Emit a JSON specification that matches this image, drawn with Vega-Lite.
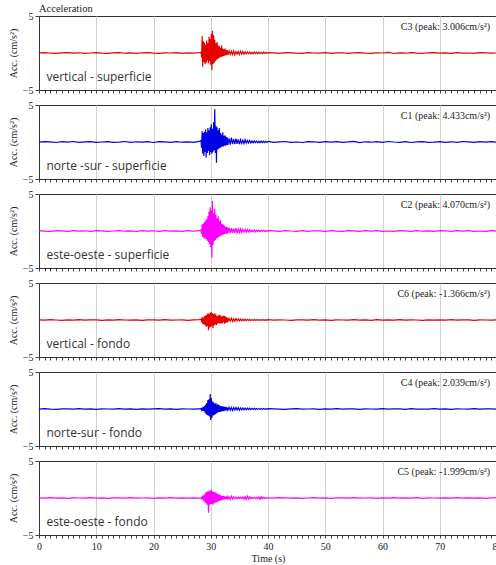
{
"$schema":"https://vega.github.io/schema/vega-lite/v6.json",
"background":"white",
"padding":{"left":7,"top":3,"right":0,"bottom":0},
"spacing":15,
"bounds":"flush",
"config":{
 "view":{"stroke":"#333","strokeWidth":1},
 "axis":{"labelFont":"Liberation Serif","labelFontSize":10,"labelColor":"#222","titleFont":"Liberation Serif","titleFontSize":10,"titleFontWeight":"normal","titleColor":"#222","domainColor":"#333","tickColor":"#444"},
 "title":{"font":"Liberation Serif","fontSize":10.5,"fontWeight":"normal","color":"#222"}
},
"datasets":{
"C3":[{"t":0,"a":0.02},{"t":1,"a":0.05},{"t":2,"a":-0.03},{"t":3,"a":-0.06},{"t":4,"a":0.01},{"t":5,"a":0.04},{"t":6,"a":-0.02},{"t":7,"a":0.03},{"t":8,"a":-0.05},{"t":9,"a":0.0},{"t":10,"a":0.06},{"t":11,"a":-0.01},{"t":12,"a":-0.04},{"t":13,"a":0.02},{"t":14,"a":0.05},{"t":15,"a":-0.03},{"t":16,"a":0.01},{"t":17,"a":-0.06},{"t":18,"a":0.03},{"t":19,"a":0.04},{"t":20,"a":-0.02},{"t":21,"a":-0.05},{"t":22,"a":0.02},{"t":23,"a":0.0},{"t":24,"a":0.05},{"t":25,"a":-0.04},{"t":26,"a":0.03},{"t":27,"a":-0.02},{"t":28,"a":0.06},
{"t":28.3,"a":0.1},{"t":28.4,"a":-0.6},{"t":28.5,"a":2.3},{"t":28.6,"a":-1.85},{"t":28.7,"a":1.6},{"t":28.8,"a":-1.2},{"t":28.9,"a":1.4},{"t":29.0,"a":-1.5},{"t":29.1,"a":1.1},{"t":29.2,"a":-1.3},{"t":29.3,"a":1.7},{"t":29.4,"a":-1.0},{"t":29.5,"a":1.3},{"t":29.6,"a":-1.4},{"t":29.7,"a":2.2},{"t":29.8,"a":-1.1},{"t":29.9,"a":1.9},{"t":30.0,"a":-1.6},{"t":30.1,"a":2.6},{"t":30.2,"a":-2.3},{"t":30.3,"a":3.006},{"t":30.4,"a":-1.5},{"t":30.5,"a":2.4},{"t":30.6,"a":-1.3},{"t":30.7,"a":1.8},{"t":30.8,"a":-1.1},{"t":30.9,"a":1.3},{"t":31.0,"a":-0.9},{"t":31.1,"a":1.5},{"t":31.2,"a":-0.8},{"t":31.3,"a":1.0},{"t":31.4,"a":-0.7},{"t":31.5,"a":0.9},{"t":31.6,"a":-0.6},{"t":31.7,"a":0.7},{"t":31.8,"a":-0.5},{"t":31.9,"a":1.0},{"t":32.0,"a":-0.5},{"t":32.1,"a":0.6},{"t":32.2,"a":-0.4},{"t":32.3,"a":0.5},{"t":32.4,"a":-0.35},{"t":32.5,"a":0.6},{"t":32.6,"a":-0.3},{"t":32.7,"a":0.4},{"t":32.8,"a":-0.3},{"t":32.9,"a":0.35},{"t":33.0,"a":-0.25},
{"t":33.2,"a":0.3},{"t":33.4,"a":-0.2},{"t":33.6,"a":0.25},{"t":33.8,"a":-0.2},{"t":34.0,"a":0.3},{"t":34.2,"a":-0.25},{"t":34.4,"a":0.2},{"t":34.6,"a":-0.15},{"t":34.8,"a":0.2},{"t":35.0,"a":-0.2},{"t":35.2,"a":0.25},{"t":35.4,"a":-0.15},{"t":35.6,"a":0.2},{"t":35.8,"a":-0.15},{"t":36.0,"a":0.15},{"t":36.2,"a":-0.12},{"t":36.4,"a":0.15},{"t":36.6,"a":-0.1},{"t":36.8,"a":0.12},{"t":37.0,"a":-0.12},{"t":37.2,"a":0.1},{"t":37.4,"a":-0.1},{"t":37.6,"a":0.12},{"t":37.8,"a":-0.08},{"t":38.0,"a":0.1},{"t":38.2,"a":-0.08},{"t":38.4,"a":0.1},{"t":38.6,"a":-0.08},{"t":38.8,"a":0.08},{"t":39.0,"a":-0.08},{"t":39.2,"a":0.1},{"t":39.4,"a":-0.06},{"t":39.6,"a":0.08},{"t":39.8,"a":-0.06},{"t":40.0,"a":0.06},
{"t":41,"a":0.01},{"t":42,"a":-0.04},{"t":43,"a":0.05},{"t":44,"a":0.02},{"t":45,"a":-0.03},{"t":46,"a":-0.05},{"t":47,"a":0.04},{"t":48,"a":0.0},{"t":49,"a":-0.02},{"t":50,"a":0.06},{"t":51,"a":-0.04},{"t":52,"a":0.01},{"t":53,"a":0.03},{"t":54,"a":-0.06},{"t":55,"a":0.02},{"t":56,"a":0.05},{"t":57,"a":-0.01},{"t":58,"a":-0.04},{"t":59,"a":0.03},{"t":60,"a":0.0},{"t":61,"a":0.08},{"t":62,"a":-0.07},{"t":63,"a":0.02},{"t":64,"a":-0.03},{"t":65,"a":0.05},{"t":66,"a":-0.01},{"t":67,"a":-0.05},{"t":68,"a":0.03},{"t":69,"a":0.04},{"t":70,"a":-0.02},{"t":71,"a":0.01},{"t":72,"a":-0.05},{"t":73,"a":0.06},{"t":74,"a":-0.02},{"t":75,"a":0.0},{"t":76,"a":-0.04},{"t":77,"a":0.05},{"t":78,"a":0.02},{"t":79,"a":-0.03},{"t":80,"a":0.01}],
"C1":[{"t":0,"a":-0.03},{"t":1,"a":0.06},{"t":2,"a":0.01},{"t":3,"a":-0.07},{"t":4,"a":0.04},{"t":5,"a":-0.02},{"t":6,"a":0.07},{"t":7,"a":-0.05},{"t":8,"a":0.02},{"t":9,"a":0.05},{"t":10,"a":-0.06},{"t":11,"a":0.0},{"t":12,"a":0.06},{"t":13,"a":-0.04},{"t":14,"a":-0.01},{"t":15,"a":0.07},{"t":16,"a":-0.06},{"t":17,"a":0.03},{"t":18,"a":-0.02},{"t":19,"a":0.05},{"t":20,"a":-0.07},{"t":21,"a":0.04},{"t":22,"a":0.01},{"t":23,"a":-0.05},{"t":24,"a":0.06},{"t":25,"a":-0.03},{"t":26,"a":0.02},{"t":27,"a":-0.06},{"t":28,"a":0.08},
{"t":28.3,"a":0.2},{"t":28.4,"a":-0.8},{"t":28.5,"a":1.5},{"t":28.6,"a":-1.6},{"t":28.7,"a":1.2},{"t":28.8,"a":-1.9},{"t":28.9,"a":1.4},{"t":29.0,"a":-1.3},{"t":29.1,"a":1.7},{"t":29.2,"a":-2.1},{"t":29.3,"a":1.3},{"t":29.4,"a":-1.5},{"t":29.5,"a":1.9},{"t":29.6,"a":-1.2},{"t":29.7,"a":1.6},{"t":29.8,"a":-1.8},{"t":29.9,"a":2.0},{"t":30.0,"a":-1.4},{"t":30.1,"a":2.4},{"t":30.2,"a":-1.6},{"t":30.3,"a":1.8},{"t":30.4,"a":-1.3},{"t":30.5,"a":2.7},{"t":30.6,"a":-1.1},{"t":30.7,"a":4.433},{"t":30.8,"a":-1.5},{"t":30.9,"a":2.2},{"t":31.0,"a":-2.8},{"t":31.1,"a":2.0},{"t":31.2,"a":-1.0},{"t":31.3,"a":1.6},{"t":31.4,"a":-0.9},{"t":31.5,"a":1.9},{"t":31.6,"a":-0.8},{"t":31.7,"a":1.2},{"t":31.8,"a":-0.7},{"t":31.9,"a":1.0},{"t":32.0,"a":-0.6},{"t":32.1,"a":1.3},{"t":32.2,"a":-0.6},{"t":32.3,"a":0.8},{"t":32.4,"a":-0.5},{"t":32.5,"a":0.9},{"t":32.6,"a":-0.5},{"t":32.7,"a":0.7},{"t":32.8,"a":-0.4},{"t":32.9,"a":0.6},{"t":33.0,"a":-0.4},
{"t":33.2,"a":0.5},{"t":33.4,"a":-0.35},{"t":33.6,"a":0.6},{"t":33.8,"a":-0.3},{"t":34.0,"a":0.4},{"t":34.2,"a":-0.3},{"t":34.4,"a":0.45},{"t":34.6,"a":-0.25},{"t":34.8,"a":0.35},{"t":35.0,"a":-0.3},{"t":35.2,"a":0.3},{"t":35.4,"a":-0.2},{"t":35.6,"a":0.25},{"t":35.8,"a":-0.2},{"t":36.0,"a":0.3},{"t":36.2,"a":-0.15},{"t":36.4,"a":0.2},{"t":36.6,"a":-0.15},{"t":36.8,"a":0.2},{"t":37.0,"a":-0.12},{"t":37.2,"a":0.15},{"t":37.4,"a":-0.12},{"t":37.6,"a":0.15},{"t":37.8,"a":-0.1},{"t":38.0,"a":0.12},{"t":38.2,"a":-0.1},{"t":38.4,"a":0.1},{"t":38.6,"a":-0.1},{"t":38.8,"a":0.12},{"t":39.0,"a":-0.08},{"t":39.2,"a":0.1},{"t":39.4,"a":-0.08},{"t":39.6,"a":0.08},{"t":39.8,"a":-0.06},{"t":40.0,"a":0.07},
{"t":41,"a":-0.05},{"t":42,"a":0.02},{"t":43,"a":0.07},{"t":44,"a":-0.04},{"t":45,"a":0.0},{"t":46,"a":-0.07},{"t":47,"a":0.05},{"t":48,"a":0.03},{"t":49,"a":-0.06},{"t":50,"a":0.04},{"t":51,"a":-0.02},{"t":52,"a":0.06},{"t":53,"a":-0.05},{"t":54,"a":0.01},{"t":55,"a":0.09},{"t":56,"a":-0.08},{"t":57,"a":0.03},{"t":58,"a":-0.03},{"t":59,"a":0.05},{"t":60,"a":-0.06},{"t":61,"a":0.07},{"t":62,"a":0.0},{"t":63,"a":-0.04},{"t":64,"a":0.05},{"t":65,"a":-0.07},{"t":66,"a":0.02},{"t":67,"a":0.06},{"t":68,"a":-0.05},{"t":69,"a":-0.01},{"t":70,"a":0.06},{"t":71,"a":-0.04},{"t":72,"a":0.03},{"t":73,"a":-0.06},{"t":74,"a":0.07},{"t":75,"a":0.01},{"t":76,"a":-0.05},{"t":77,"a":0.04},{"t":78,"a":-0.02},{"t":79,"a":0.06},{"t":80,"a":-0.04}],
"C2":[{"t":0,"a":0.04},{"t":1,"a":-0.02},{"t":2,"a":-0.06},{"t":3,"a":0.05},{"t":4,"a":0.01},{"t":5,"a":-0.04},{"t":6,"a":0.06},{"t":7,"a":-0.01},{"t":8,"a":0.03},{"t":9,"a":-0.06},{"t":10,"a":0.05},{"t":11,"a":0.02},{"t":12,"a":-0.05},{"t":13,"a":0.0},{"t":14,"a":0.06},{"t":15,"a":-0.03},{"t":16,"a":0.02},{"t":17,"a":-0.07},{"t":18,"a":0.05},{"t":19,"a":-0.01},{"t":20,"a":0.03},{"t":21,"a":-0.05},{"t":22,"a":0.06},{"t":23,"a":-0.02},{"t":24,"a":0.01},{"t":25,"a":-0.06},{"t":26,"a":0.04},{"t":27,"a":-0.03},{"t":28,"a":0.06},
{"t":28.3,"a":0.1},{"t":28.4,"a":-0.4},{"t":28.5,"a":0.9},{"t":28.6,"a":-0.8},{"t":28.7,"a":1.0},{"t":28.8,"a":-0.9},{"t":28.9,"a":1.2},{"t":29.0,"a":-1.0},{"t":29.1,"a":1.4},{"t":29.2,"a":-1.1},{"t":29.3,"a":1.6},{"t":29.4,"a":-1.3},{"t":29.5,"a":2.0},{"t":29.6,"a":-1.5},{"t":29.7,"a":2.6},{"t":29.8,"a":-1.8},{"t":29.9,"a":3.2},{"t":30.0,"a":-2.2},{"t":30.1,"a":2.8},{"t":30.2,"a":-3.6},{"t":30.3,"a":4.07},{"t":30.4,"a":-1.9},{"t":30.5,"a":2.4},{"t":30.6,"a":-1.4},{"t":30.7,"a":3.0},{"t":30.8,"a":-1.2},{"t":30.9,"a":2.2},{"t":31.0,"a":-1.0},{"t":31.1,"a":1.7},{"t":31.2,"a":-0.9},{"t":31.3,"a":2.0},{"t":31.4,"a":-0.8},{"t":31.5,"a":1.3},{"t":31.6,"a":-0.7},{"t":31.7,"a":1.5},{"t":31.8,"a":-0.6},{"t":31.9,"a":1.0},{"t":32.0,"a":-0.5},{"t":32.1,"a":0.9},{"t":32.2,"a":-0.5},{"t":32.3,"a":0.8},{"t":32.4,"a":-0.4},{"t":32.5,"a":0.6},{"t":32.6,"a":-0.4},{"t":32.7,"a":0.6},{"t":32.8,"a":-0.35},{"t":32.9,"a":0.5},{"t":33.0,"a":-0.3},
{"t":33.2,"a":0.45},{"t":33.4,"a":-0.3},{"t":33.6,"a":0.4},{"t":33.8,"a":-0.3},{"t":34.0,"a":0.35},{"t":34.2,"a":-0.25},{"t":34.4,"a":0.4},{"t":34.6,"a":-0.25},{"t":34.8,"a":0.3},{"t":35.0,"a":-0.2},{"t":35.2,"a":0.3},{"t":35.4,"a":-0.2},{"t":35.6,"a":0.25},{"t":35.8,"a":-0.15},{"t":36.0,"a":0.2},{"t":36.2,"a":-0.15},{"t":36.4,"a":0.2},{"t":36.6,"a":-0.12},{"t":36.8,"a":0.15},{"t":37.0,"a":-0.12},{"t":37.2,"a":0.12},{"t":37.4,"a":-0.1},{"t":37.6,"a":0.12},{"t":37.8,"a":-0.1},{"t":38.0,"a":0.1},{"t":38.2,"a":-0.08},{"t":38.4,"a":0.1},{"t":38.6,"a":-0.08},{"t":38.8,"a":0.08},{"t":39.0,"a":-0.06},{"t":39.2,"a":0.08},{"t":39.4,"a":-0.06},{"t":39.6,"a":0.07},{"t":39.8,"a":-0.06},{"t":40.0,"a":0.05},
{"t":41,"a":0.02},{"t":42,"a":-0.05},{"t":43,"a":0.06},{"t":44,"a":0.0},{"t":45,"a":-0.04},{"t":46,"a":0.05},{"t":47,"a":-0.06},{"t":48,"a":0.03},{"t":49,"a":0.01},{"t":50,"a":-0.05},{"t":51,"a":0.06},{"t":52,"a":-0.02},{"t":53,"a":-0.04},{"t":54,"a":0.05},{"t":55,"a":0.02},{"t":56,"a":-0.06},{"t":57,"a":0.04},{"t":58,"a":-0.01},{"t":59,"a":0.06},{"t":60,"a":-0.05},{"t":61,"a":0.0},{"t":62,"a":-0.06},{"t":63,"a":0.05},{"t":64,"a":0.02},{"t":65,"a":-0.04},{"t":66,"a":0.06},{"t":67,"a":-0.03},{"t":68,"a":0.01},{"t":69,"a":-0.05},{"t":70,"a":0.04},{"t":71,"a":0.03},{"t":72,"a":-0.06},{"t":73,"a":0.05},{"t":74,"a":-0.02},{"t":75,"a":0.06},{"t":76,"a":-0.04},{"t":77,"a":0.0},{"t":78,"a":-0.05},{"t":79,"a":0.04},{"t":80,"a":0.02}],
"C6":[{"t":0,"a":0.02},{"t":1,"a":-0.03},{"t":2,"a":0.04},{"t":3,"a":0.0},{"t":4,"a":-0.04},{"t":5,"a":0.03},{"t":6,"a":-0.01},{"t":7,"a":0.04},{"t":8,"a":-0.03},{"t":9,"a":0.01},{"t":10,"a":0.03},{"t":11,"a":-0.04},{"t":12,"a":0.02},{"t":13,"a":-0.02},{"t":14,"a":0.04},{"t":15,"a":0.0},{"t":16,"a":-0.03},{"t":17,"a":0.03},{"t":18,"a":-0.04},{"t":19,"a":0.02},{"t":20,"a":0.01},{"t":21,"a":-0.03},{"t":22,"a":0.04},{"t":23,"a":-0.02},{"t":24,"a":0.0},{"t":25,"a":0.03},{"t":26,"a":-0.04},{"t":27,"a":0.02},{"t":28,"a":0.04},
{"t":28.3,"a":0.1},{"t":28.4,"a":-0.3},{"t":28.5,"a":0.4},{"t":28.6,"a":-0.5},{"t":28.7,"a":0.3},{"t":28.8,"a":-0.6},{"t":28.9,"a":0.5},{"t":29.0,"a":-0.7},{"t":29.1,"a":0.6},{"t":29.2,"a":-0.9},{"t":29.3,"a":0.7},{"t":29.4,"a":-0.8},{"t":29.5,"a":0.9},{"t":29.6,"a":-1.366},{"t":29.7,"a":0.8},{"t":29.8,"a":-1.0},{"t":29.9,"a":1.0},{"t":30.0,"a":-0.9},{"t":30.1,"a":1.05},{"t":30.2,"a":-0.8},{"t":30.3,"a":0.9},{"t":30.4,"a":-1.1},{"t":30.5,"a":0.8},{"t":30.6,"a":-0.7},{"t":30.7,"a":0.9},{"t":30.8,"a":-0.6},{"t":30.9,"a":0.7},{"t":31.0,"a":-0.7},{"t":31.1,"a":0.5},{"t":31.2,"a":-0.5},{"t":31.3,"a":0.6},{"t":31.4,"a":-0.4},{"t":31.5,"a":0.7},{"t":31.6,"a":-0.5},{"t":31.7,"a":0.6},{"t":31.8,"a":-0.4},{"t":31.9,"a":0.5},{"t":32.0,"a":-0.5},{"t":32.1,"a":0.5},{"t":32.2,"a":-0.3},{"t":32.3,"a":0.6},{"t":32.4,"a":-0.5},{"t":32.5,"a":0.5},{"t":32.6,"a":-0.4},{"t":32.7,"a":0.4},{"t":32.8,"a":-0.3},{"t":32.9,"a":0.3},{"t":33.0,"a":-0.15},
{"t":33.2,"a":0.2},{"t":33.4,"a":-0.15},{"t":33.6,"a":0.25},{"t":33.8,"a":-0.2},{"t":34.0,"a":0.15},{"t":34.2,"a":-0.15},{"t":34.4,"a":0.2},{"t":34.6,"a":-0.1},{"t":34.8,"a":0.15},{"t":35.0,"a":-0.12},{"t":35.2,"a":0.12},{"t":35.4,"a":-0.1},{"t":35.6,"a":0.1},{"t":35.8,"a":-0.08},{"t":36.0,"a":0.1},{"t":36.2,"a":-0.08},{"t":36.4,"a":0.08},{"t":36.6,"a":-0.06},{"t":36.8,"a":0.06},{"t":37.0,"a":-0.06},{"t":37.2,"a":0.05},{"t":37.4,"a":-0.05},{"t":37.6,"a":0.05},{"t":37.8,"a":-0.04},{"t":38.0,"a":0.05},{"t":38.2,"a":-0.04},{"t":38.4,"a":0.05},{"t":38.6,"a":-0.04},{"t":38.8,"a":0.05},{"t":39.0,"a":-0.04},{"t":39.2,"a":0.05},{"t":39.4,"a":-0.04},{"t":39.6,"a":0.05},{"t":39.8,"a":-0.04},{"t":40.0,"a":0.04},
{"t":41,"a":-0.02},{"t":42,"a":0.03},{"t":43,"a":0.0},{"t":44,"a":-0.04},{"t":45,"a":0.03},{"t":46,"a":0.01},{"t":47,"a":-0.03},{"t":48,"a":0.04},{"t":49,"a":-0.02},{"t":50,"a":0.02},{"t":51,"a":-0.04},{"t":52,"a":0.03},{"t":53,"a":0.0},{"t":54,"a":-0.03},{"t":55,"a":0.04},{"t":56,"a":-0.01},{"t":57,"a":0.02},{"t":58,"a":-0.04},{"t":59,"a":0.05},{"t":60,"a":-0.02},{"t":61,"a":0.01},{"t":62,"a":-0.03},{"t":63,"a":0.04},{"t":64,"a":-0.02},{"t":65,"a":0.03},{"t":66,"a":0.0},{"t":67,"a":-0.04},{"t":68,"a":0.03},{"t":69,"a":-0.01},{"t":70,"a":0.02},{"t":71,"a":-0.03},{"t":72,"a":0.04},{"t":73,"a":-0.02},{"t":74,"a":0.01},{"t":75,"a":0.03},{"t":76,"a":-0.04},{"t":77,"a":0.02},{"t":78,"a":0.0},{"t":79,"a":-0.03},{"t":80,"a":0.02}],
"C4":[{"t":0,"a":-0.02},{"t":1,"a":0.04},{"t":2,"a":-0.01},{"t":3,"a":-0.04},{"t":4,"a":0.03},{"t":5,"a":0.01},{"t":6,"a":-0.03},{"t":7,"a":0.04},{"t":8,"a":-0.02},{"t":9,"a":0.02},{"t":10,"a":-0.04},{"t":11,"a":0.03},{"t":12,"a":0.0},{"t":13,"a":-0.03},{"t":14,"a":0.04},{"t":15,"a":-0.01},{"t":16,"a":0.02},{"t":17,"a":-0.04},{"t":18,"a":0.03},{"t":19,"a":-0.02},{"t":20,"a":0.01},{"t":21,"a":0.04},{"t":22,"a":-0.03},{"t":23,"a":0.02},{"t":24,"a":-0.04},{"t":25,"a":0.03},{"t":26,"a":0.0},{"t":27,"a":-0.03},{"t":28,"a":0.03},
{"t":28.3,"a":0.05},{"t":28.4,"a":-0.15},{"t":28.5,"a":0.2},{"t":28.6,"a":-0.25},{"t":28.7,"a":0.3},{"t":28.8,"a":-0.3},{"t":28.9,"a":0.4},{"t":29.0,"a":-0.5},{"t":29.1,"a":0.6},{"t":29.2,"a":-0.7},{"t":29.3,"a":0.8},{"t":29.4,"a":-0.8},{"t":29.5,"a":1.2},{"t":29.6,"a":-0.9},{"t":29.7,"a":1.3},{"t":29.8,"a":-1.0},{"t":29.9,"a":2.039},{"t":30.0,"a":-1.5},{"t":30.1,"a":1.5},{"t":30.2,"a":-1.2},{"t":30.3,"a":1.0},{"t":30.4,"a":-0.9},{"t":30.5,"a":0.9},{"t":30.6,"a":-0.8},{"t":30.7,"a":0.7},{"t":30.8,"a":-0.7},{"t":30.9,"a":0.8},{"t":31.0,"a":-0.6},{"t":31.1,"a":0.6},{"t":31.2,"a":-0.5},{"t":31.3,"a":0.6},{"t":31.4,"a":-0.4},{"t":31.5,"a":0.5},{"t":31.6,"a":-0.4},{"t":31.7,"a":0.4},{"t":31.8,"a":-0.35},{"t":31.9,"a":0.35},{"t":32.0,"a":-0.3},{"t":32.1,"a":0.35},{"t":32.2,"a":-0.3},{"t":32.3,"a":0.3},{"t":32.4,"a":-0.25},{"t":32.5,"a":0.3},{"t":32.6,"a":-0.2},{"t":32.7,"a":0.25},{"t":32.8,"a":-0.2},{"t":32.9,"a":0.2},{"t":33.0,"a":-0.15},
{"t":33.2,"a":0.25},{"t":33.4,"a":-0.15},{"t":33.6,"a":0.2},{"t":33.8,"a":-0.2},{"t":34.0,"a":0.2},{"t":34.2,"a":-0.15},{"t":34.4,"a":0.2},{"t":34.6,"a":-0.12},{"t":34.8,"a":0.18},{"t":35.0,"a":-0.15},{"t":35.2,"a":0.15},{"t":35.4,"a":-0.1},{"t":35.6,"a":0.15},{"t":35.8,"a":-0.12},{"t":36.0,"a":0.12},{"t":36.2,"a":-0.1},{"t":36.4,"a":0.12},{"t":36.6,"a":-0.08},{"t":36.8,"a":0.1},{"t":37.0,"a":-0.08},{"t":37.2,"a":0.08},{"t":37.4,"a":-0.06},{"t":37.6,"a":0.08},{"t":37.8,"a":-0.06},{"t":38.0,"a":0.06},{"t":38.2,"a":-0.05},{"t":38.4,"a":0.06},{"t":38.6,"a":-0.05},{"t":38.8,"a":0.05},{"t":39.0,"a":-0.05},{"t":39.2,"a":0.06},{"t":39.4,"a":-0.05},{"t":39.6,"a":0.05},{"t":39.8,"a":-0.04},{"t":40.0,"a":0.04},
{"t":41,"a":0.03},{"t":42,"a":-0.01},{"t":43,"a":-0.04},{"t":44,"a":0.02},{"t":45,"a":0.04},{"t":46,"a":-0.03},{"t":47,"a":0.0},{"t":48,"a":0.03},{"t":49,"a":-0.04},{"t":50,"a":0.02},{"t":51,"a":-0.02},{"t":52,"a":0.04},{"t":53,"a":-0.03},{"t":54,"a":0.01},{"t":55,"a":0.03},{"t":56,"a":-0.04},{"t":57,"a":0.02},{"t":58,"a":0.0},{"t":59,"a":-0.03},{"t":60,"a":0.04},{"t":61,"a":-0.02},{"t":62,"a":0.01},{"t":63,"a":0.03},{"t":64,"a":-0.04},{"t":65,"a":0.05},{"t":66,"a":-0.02},{"t":67,"a":0.0},{"t":68,"a":-0.03},{"t":69,"a":0.04},{"t":70,"a":-0.01},{"t":71,"a":0.02},{"t":72,"a":-0.04},{"t":73,"a":0.03},{"t":74,"a":0.0},{"t":75,"a":-0.02},{"t":76,"a":0.04},{"t":77,"a":-0.03},{"t":78,"a":0.01},{"t":79,"a":0.03},{"t":80,"a":-0.02}],
"C5":[{"t":0,"a":0.01},{"t":1,"a":-0.03},{"t":2,"a":0.04},{"t":3,"a":-0.01},{"t":4,"a":0.02},{"t":5,"a":-0.04},{"t":6,"a":0.03},{"t":7,"a":0.0},{"t":8,"a":-0.03},{"t":9,"a":0.04},{"t":10,"a":-0.02},{"t":11,"a":0.02},{"t":12,"a":-0.04},{"t":13,"a":0.03},{"t":14,"a":0.01},{"t":15,"a":-0.03},{"t":16,"a":0.04},{"t":17,"a":-0.02},{"t":18,"a":0.0},{"t":19,"a":0.03},{"t":20,"a":-0.04},{"t":21,"a":0.02},{"t":22,"a":-0.01},{"t":23,"a":0.04},{"t":24,"a":-0.03},{"t":25,"a":0.01},{"t":26,"a":-0.02},{"t":27,"a":0.03},{"t":28,"a":-0.03},
{"t":28.3,"a":0.05},{"t":28.4,"a":-0.1},{"t":28.5,"a":0.15},{"t":28.6,"a":-0.2},{"t":28.7,"a":0.3},{"t":28.8,"a":-0.4},{"t":28.9,"a":0.5},{"t":29.0,"a":-0.6},{"t":29.1,"a":0.7},{"t":29.2,"a":-0.7},{"t":29.3,"a":0.8},{"t":29.4,"a":-0.9},{"t":29.5,"a":0.9},{"t":29.6,"a":-1.999},{"t":29.7,"a":0.9},{"t":29.8,"a":-0.9},{"t":29.9,"a":1.0},{"t":30.0,"a":-0.8},{"t":30.1,"a":1.1},{"t":30.2,"a":-0.8},{"t":30.3,"a":0.9},{"t":30.4,"a":-0.9},{"t":30.5,"a":0.8},{"t":30.6,"a":-0.7},{"t":30.7,"a":0.8},{"t":30.8,"a":-0.6},{"t":30.9,"a":0.7},{"t":31.0,"a":-0.6},{"t":31.1,"a":0.6},{"t":31.2,"a":-0.5},{"t":31.3,"a":0.5},{"t":31.4,"a":-0.4},{"t":31.5,"a":0.45},{"t":31.6,"a":-0.35},{"t":31.7,"a":0.35},{"t":31.8,"a":-0.3},{"t":31.9,"a":0.3},{"t":32.0,"a":-0.25},{"t":32.1,"a":0.3},{"t":32.2,"a":-0.2},{"t":32.3,"a":0.25},{"t":32.4,"a":-0.2},{"t":32.5,"a":0.2},{"t":32.6,"a":-0.15},{"t":32.7,"a":0.2},{"t":32.8,"a":-0.15},{"t":32.9,"a":0.15},{"t":33.0,"a":-0.12},
{"t":33.2,"a":0.15},{"t":33.4,"a":-0.2},{"t":33.6,"a":0.25},{"t":33.8,"a":-0.15},{"t":34.0,"a":0.15},{"t":34.2,"a":-0.1},{"t":34.4,"a":0.12},{"t":34.6,"a":-0.1},{"t":34.8,"a":0.1},{"t":35.0,"a":-0.08},{"t":35.2,"a":0.1},{"t":35.4,"a":-0.08},{"t":35.6,"a":0.12},{"t":35.8,"a":-0.15},{"t":36.0,"a":0.2},{"t":36.2,"a":-0.2},{"t":36.4,"a":0.25},{"t":36.6,"a":-0.15},{"t":36.8,"a":0.15},{"t":37.0,"a":-0.1},{"t":37.2,"a":0.08},{"t":37.4,"a":-0.06},{"t":37.6,"a":0.06},{"t":37.8,"a":-0.06},{"t":38.0,"a":0.08},{"t":38.2,"a":-0.1},{"t":38.4,"a":0.12},{"t":38.6,"a":-0.15},{"t":38.8,"a":0.18},{"t":39.0,"a":-0.12},{"t":39.2,"a":0.1},{"t":39.4,"a":-0.06},{"t":39.6,"a":0.05},{"t":39.8,"a":-0.04},{"t":40.0,"a":0.03},
{"t":41,"a":-0.02},{"t":42,"a":0.04},{"t":43,"a":0.01},{"t":44,"a":-0.03},{"t":45,"a":0.03},{"t":46,"a":-0.04},{"t":47,"a":0.0},{"t":48,"a":0.04},{"t":49,"a":-0.02},{"t":50,"a":0.02},{"t":51,"a":-0.04},{"t":52,"a":0.03},{"t":53,"a":0.01},{"t":54,"a":-0.03},{"t":55,"a":0.04},{"t":56,"a":-0.02},{"t":57,"a":0.0},{"t":58,"a":0.03},{"t":59,"a":-0.04},{"t":60,"a":0.02},{"t":61,"a":-0.01},{"t":62,"a":0.04},{"t":63,"a":-0.03},{"t":64,"a":0.01},{"t":65,"a":-0.02},{"t":66,"a":0.04},{"t":67,"a":-0.04},{"t":68,"a":0.02},{"t":69,"a":0.0},{"t":70,"a":-0.03},{"t":71,"a":0.03},{"t":72,"a":-0.01},{"t":73,"a":0.04},{"t":74,"a":-0.03},{"t":75,"a":0.02},{"t":76,"a":-0.02},{"t":77,"a":0.03},{"t":78,"a":-0.04},{"t":79,"a":0.01},{"t":80,"a":0.02}]
},
"vconcat":[
{"width":458,"height":74,
 "title":{"text":"Acceleration","anchor":"start","frame":"group","offset":0,"dy":3},
 "layer":[
  {"data":{"name":"C3"},"mark":{"type":"line","color":"#e60000","strokeWidth":1.2,"clip":true},
   "encoding":{"x":{"field":"t","type":"quantitative","scale":{"domain":[0,80],"nice":false},"axis":{"values":[0,1,2,3,4,5,6,7,8,9,10,11,12,13,14,15,16,17,18,19,20,21,22,23,24,25,26,27,28,29,30,31,32,33,34,35,36,37,38,39,40,41,42,43,44,45,46,47,48,49,50,51,52,53,54,55,56,57,58,59,60,61,62,63,64,65,66,67,68,69,70,71,72,73,74,75,76,77,78,79,80],"tickCount":200,"labels":false,"title":null,"tickSize":3,"grid":true,"gridColor":"#d0d0d0","gridOpacity":{"condition":{"test":"datum.value % 10 === 0","value":1},"value":0}}},
   "y":{"field":"a","type":"quantitative","scale":{"domain":[-5,5],"nice":false},"axis":{"values":[-5,0,5],"title":"Acc. (cm/s²)","tickSize":4,"labelPadding":2,"titlePadding":4,"labelFlush":false,"grid":false}}}},
  {"data":{"values":[{"l":"vertical - superficie"}]},"mark":{"type":"text","align":"left","baseline":"middle","font":"Open Sans","fontSize":12,"color":"#333"},
   "encoding":{"x":{"datum":1.3},"y":{"datum":-3.3},"text":{"field":"l"}}},
  {"data":{"values":[{"l":"C3 (peak: 3.006cm/s²)"}]},"mark":{"type":"text","align":"right","baseline":"middle","font":"Liberation Serif","fontSize":10,"color":"#222"},
   "encoding":{"x":{"datum":78.8},"y":{"datum":3.55},"text":{"field":"l"}}}
 ]},
{"width":458,"height":74,
 "layer":[
  {"data":{"name":"C1"},"mark":{"type":"line","color":"#0000e6","strokeWidth":1.2,"clip":true},
   "encoding":{"x":{"field":"t","type":"quantitative","scale":{"domain":[0,80],"nice":false},"axis":{"values":[0,1,2,3,4,5,6,7,8,9,10,11,12,13,14,15,16,17,18,19,20,21,22,23,24,25,26,27,28,29,30,31,32,33,34,35,36,37,38,39,40,41,42,43,44,45,46,47,48,49,50,51,52,53,54,55,56,57,58,59,60,61,62,63,64,65,66,67,68,69,70,71,72,73,74,75,76,77,78,79,80],"tickCount":200,"labels":false,"title":null,"tickSize":3,"grid":true,"gridColor":"#d0d0d0","gridOpacity":{"condition":{"test":"datum.value % 10 === 0","value":1},"value":0}}},
   "y":{"field":"a","type":"quantitative","scale":{"domain":[-5,5],"nice":false},"axis":{"values":[-5,0,5],"title":"Acc. (cm/s²)","tickSize":4,"labelPadding":2,"titlePadding":4,"labelFlush":false,"grid":false}}}},
  {"data":{"values":[{"l":"norte -sur - superficie"}]},"mark":{"type":"text","align":"left","baseline":"middle","font":"Open Sans","fontSize":12,"color":"#333"},
   "encoding":{"x":{"datum":1.3},"y":{"datum":-3.3},"text":{"field":"l"}}},
  {"data":{"values":[{"l":"C1 (peak: 4.433cm/s²)"}]},"mark":{"type":"text","align":"right","baseline":"middle","font":"Liberation Serif","fontSize":10,"color":"#222"},
   "encoding":{"x":{"datum":78.8},"y":{"datum":3.55},"text":{"field":"l"}}}
 ]},
{"width":458,"height":74,
 "layer":[
  {"data":{"name":"C2"},"mark":{"type":"line","color":"#ff00ff","strokeWidth":1.2,"clip":true},
   "encoding":{"x":{"field":"t","type":"quantitative","scale":{"domain":[0,80],"nice":false},"axis":{"values":[0,1,2,3,4,5,6,7,8,9,10,11,12,13,14,15,16,17,18,19,20,21,22,23,24,25,26,27,28,29,30,31,32,33,34,35,36,37,38,39,40,41,42,43,44,45,46,47,48,49,50,51,52,53,54,55,56,57,58,59,60,61,62,63,64,65,66,67,68,69,70,71,72,73,74,75,76,77,78,79,80],"tickCount":200,"labels":false,"title":null,"tickSize":3,"grid":true,"gridColor":"#d0d0d0","gridOpacity":{"condition":{"test":"datum.value % 10 === 0","value":1},"value":0}}},
   "y":{"field":"a","type":"quantitative","scale":{"domain":[-5,5],"nice":false},"axis":{"values":[-5,0,5],"title":"Acc. (cm/s²)","tickSize":4,"labelPadding":2,"titlePadding":4,"labelFlush":false,"grid":false}}}},
  {"data":{"values":[{"l":"este-oeste - superficie"}]},"mark":{"type":"text","align":"left","baseline":"middle","font":"Open Sans","fontSize":12,"color":"#333"},
   "encoding":{"x":{"datum":1.3},"y":{"datum":-3.3},"text":{"field":"l"}}},
  {"data":{"values":[{"l":"C2 (peak: 4.070cm/s²)"}]},"mark":{"type":"text","align":"right","baseline":"middle","font":"Liberation Serif","fontSize":10,"color":"#222"},
   "encoding":{"x":{"datum":78.8},"y":{"datum":3.55},"text":{"field":"l"}}}
 ]},
{"width":458,"height":74,
 "layer":[
  {"data":{"name":"C6"},"mark":{"type":"line","color":"#e60000","strokeWidth":1.2,"clip":true},
   "encoding":{"x":{"field":"t","type":"quantitative","scale":{"domain":[0,80],"nice":false},"axis":{"values":[0,1,2,3,4,5,6,7,8,9,10,11,12,13,14,15,16,17,18,19,20,21,22,23,24,25,26,27,28,29,30,31,32,33,34,35,36,37,38,39,40,41,42,43,44,45,46,47,48,49,50,51,52,53,54,55,56,57,58,59,60,61,62,63,64,65,66,67,68,69,70,71,72,73,74,75,76,77,78,79,80],"tickCount":200,"labels":false,"title":null,"tickSize":3,"grid":true,"gridColor":"#d0d0d0","gridOpacity":{"condition":{"test":"datum.value % 10 === 0","value":1},"value":0}}},
   "y":{"field":"a","type":"quantitative","scale":{"domain":[-5,5],"nice":false},"axis":{"values":[-5,0,5],"title":"Acc. (cm/s²)","tickSize":4,"labelPadding":2,"titlePadding":4,"labelFlush":false,"grid":false}}}},
  {"data":{"values":[{"l":"vertical - fondo"}]},"mark":{"type":"text","align":"left","baseline":"middle","font":"Open Sans","fontSize":12,"color":"#333"},
   "encoding":{"x":{"datum":1.3},"y":{"datum":-3.3},"text":{"field":"l"}}},
  {"data":{"values":[{"l":"C6 (peak: -1.366cm/s²)"}]},"mark":{"type":"text","align":"right","baseline":"middle","font":"Liberation Serif","fontSize":10,"color":"#222"},
   "encoding":{"x":{"datum":78.8},"y":{"datum":3.55},"text":{"field":"l"}}}
 ]},
{"width":458,"height":74,
 "layer":[
  {"data":{"name":"C4"},"mark":{"type":"line","color":"#0000e6","strokeWidth":1.2,"clip":true},
   "encoding":{"x":{"field":"t","type":"quantitative","scale":{"domain":[0,80],"nice":false},"axis":{"values":[0,1,2,3,4,5,6,7,8,9,10,11,12,13,14,15,16,17,18,19,20,21,22,23,24,25,26,27,28,29,30,31,32,33,34,35,36,37,38,39,40,41,42,43,44,45,46,47,48,49,50,51,52,53,54,55,56,57,58,59,60,61,62,63,64,65,66,67,68,69,70,71,72,73,74,75,76,77,78,79,80],"tickCount":200,"labels":false,"title":null,"tickSize":3,"grid":true,"gridColor":"#d0d0d0","gridOpacity":{"condition":{"test":"datum.value % 10 === 0","value":1},"value":0}}},
   "y":{"field":"a","type":"quantitative","scale":{"domain":[-5,5],"nice":false},"axis":{"values":[-5,0,5],"title":"Acc. (cm/s²)","tickSize":4,"labelPadding":2,"titlePadding":4,"labelFlush":false,"grid":false}}}},
  {"data":{"values":[{"l":"norte-sur - fondo"}]},"mark":{"type":"text","align":"left","baseline":"middle","font":"Open Sans","fontSize":12,"color":"#333"},
   "encoding":{"x":{"datum":1.3},"y":{"datum":-3.3},"text":{"field":"l"}}},
  {"data":{"values":[{"l":"C4 (peak: 2.039cm/s²)"}]},"mark":{"type":"text","align":"right","baseline":"middle","font":"Liberation Serif","fontSize":10,"color":"#222"},
   "encoding":{"x":{"datum":78.8},"y":{"datum":3.55},"text":{"field":"l"}}}
 ]},
{"width":458,"height":74,
 "layer":[
  {"data":{"name":"C5"},"mark":{"type":"line","color":"#ff00ff","strokeWidth":1.2,"clip":true},
   "encoding":{"x":{"field":"t","type":"quantitative","scale":{"domain":[0,80],"nice":false},"axis":{"values":[0,1,2,3,4,5,6,7,8,9,10,11,12,13,14,15,16,17,18,19,20,21,22,23,24,25,26,27,28,29,30,31,32,33,34,35,36,37,38,39,40,41,42,43,44,45,46,47,48,49,50,51,52,53,54,55,56,57,58,59,60,61,62,63,64,65,66,67,68,69,70,71,72,73,74,75,76,77,78,79,80],"tickCount":200,"format":"d","labelExpr":"datum.value % 10 === 0 ? datum.label : ''","labelOverlap":false,"labelFlush":false,"labelBound":false,"labelPadding":3,"title":"Time (s)","titlePadding":2,"tickSize":3,"grid":true,"gridColor":"#d0d0d0","gridOpacity":{"condition":{"test":"datum.value % 10 === 0","value":1},"value":0}}},
   "y":{"field":"a","type":"quantitative","scale":{"domain":[-5,5],"nice":false},"axis":{"values":[-5,0,5],"title":"Acc. (cm/s²)","tickSize":4,"labelPadding":2,"titlePadding":4,"labelFlush":false,"grid":false}}}},
  {"data":{"values":[{"l":"este-oeste - fondo"}]},"mark":{"type":"text","align":"left","baseline":"middle","font":"Open Sans","fontSize":12,"color":"#333"},
   "encoding":{"x":{"datum":1.3},"y":{"datum":-3.3},"text":{"field":"l"}}},
  {"data":{"values":[{"l":"C5 (peak: -1.999cm/s²)"}]},"mark":{"type":"text","align":"right","baseline":"middle","font":"Liberation Serif","fontSize":10,"color":"#222"},
   "encoding":{"x":{"datum":78.8},"y":{"datum":3.55},"text":{"field":"l"}}}
 ]}
]
}
